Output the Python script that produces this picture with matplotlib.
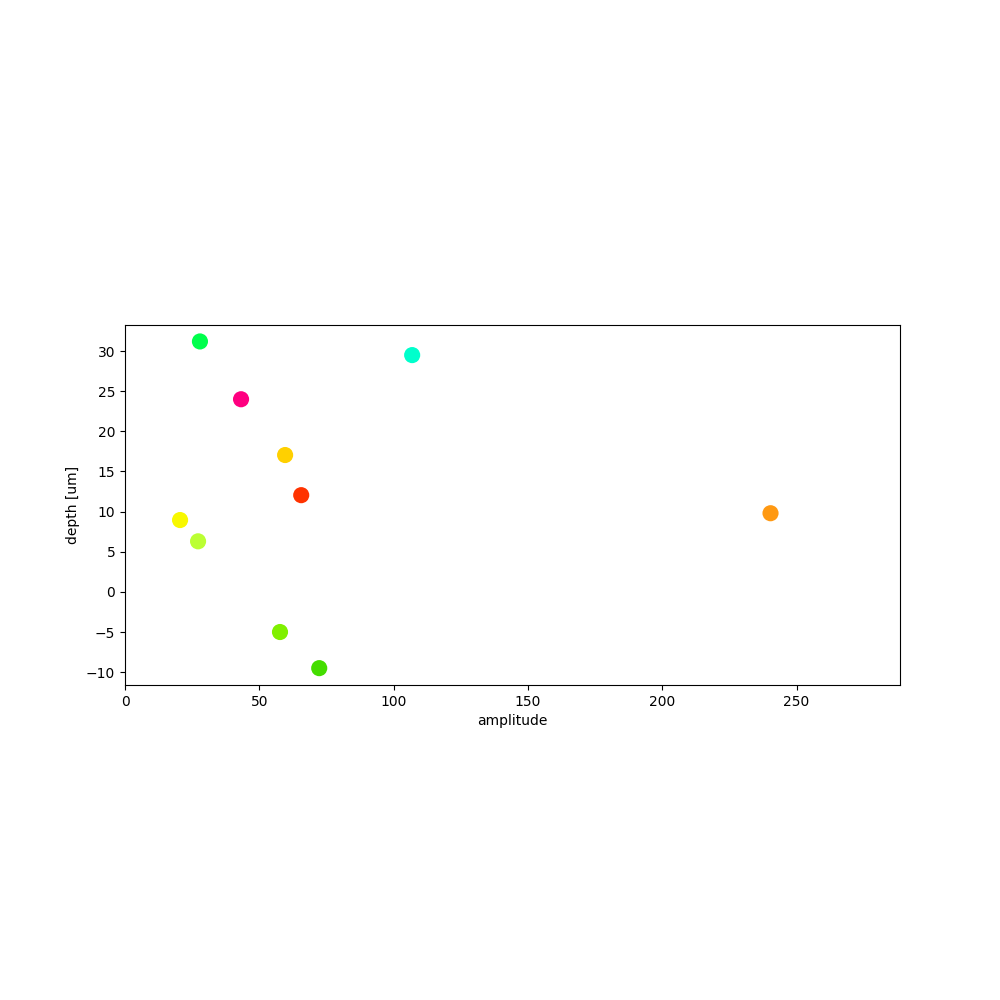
import matplotlib
matplotlib.use("Agg")
import matplotlib.pyplot as plt

amplitude = [27.9, 106.9, 43.2, 59.6, 65.6, 20.5, 27.2, 57.7, 72.3, 240.3]
depth = [31.2, 29.5, 24.0, 17.05, 12.05, 8.95, 6.3, -5.0, -9.5, 9.8]
colors = ["#00ff4c", "#00ffcc", "#ff0080", "#ffd000", "#ff3300",
          "#f8f800", "#bbff33", "#80f000", "#44dd00", "#ff9912"]

fig = plt.figure(figsize=(10, 10), dpi=100)
ax = fig.add_axes([0.125, 0.315, 0.775, 0.36])
ax.scatter(amplitude, depth, c=colors, s=135, linewidths=0)
ax.set_xlim(0, 288.5)
ax.set_ylim(-11.6, 33.25)
ax.set_xlabel("amplitude")
ax.set_ylabel("depth [um]")
fig.savefig("out.png")
